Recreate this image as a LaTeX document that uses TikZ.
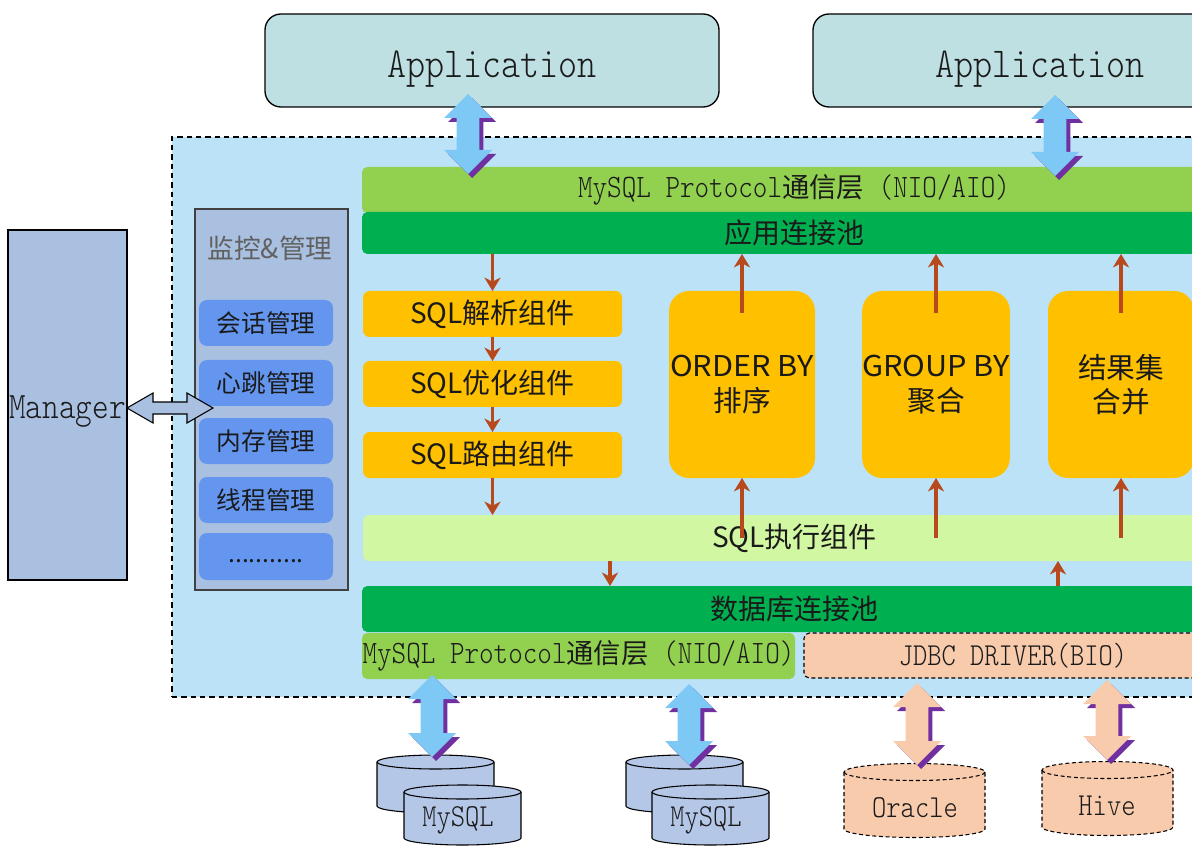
\documentclass[tikz,border=0pt]{standalone}
\usepackage{fontspec}
\newfontfamily\cjk{Noto Sans CJK SC}
\newfontfamily\cjkwide[FakeStretch=1.07]{Noto Sans CJK SC}
\newfontfamily\mono[FakeStretch=0.85]{Latin Modern Mono Light}
\usetikzlibrary{arrows.meta,calc}

\definecolor{appfill}{HTML}{BEE0E3}
\definecolor{outerfill}{HTML}{BBE2F7}
\definecolor{panelfill}{HTML}{A9C0E0}
\definecolor{itemfill}{HTML}{6496F0}
\definecolor{lgreen}{HTML}{92D050}
\definecolor{dgreen}{HTML}{00B050}
\definecolor{orangef}{HTML}{FFC000}
\definecolor{execfill}{HTML}{D2F7A2}
\definecolor{peach}{HTML}{F8CBAD}
\definecolor{arrbrown}{HTML}{B8491C}
\definecolor{cylblue}{HTML}{B4C7E7}
\definecolor{skyarrow}{HTML}{7DC8F5}
\definecolor{purp}{HTML}{7030A0}
\definecolor{txt}{HTML}{1A1A1A}

\newcommand{\protext}{{\mono\fontsize{24.5}{26}\selectfont MySQL Protocol}{\cjk\fontsize{20.5}{26}\selectfont 通信层}{\mono\fontsize{24.5}{26}\selectfont\ (NIO/AIO)}}

\newcommand{\darrpath}[3]{let \p1=(#1), \p2=(#2) in
 (\x1+#3,\y1-#3) -- (\x1+18pt+#3,\y1-18pt-#3) -- (\x1+8.6pt+#3,\y1-18pt-#3) --
 (\x1+8.6pt+#3,\y2+18pt-#3) -- (\x1+18pt+#3,\y2+18pt-#3) -- (\x1+#3,\y2-#3) --
 (\x1-18pt+#3,\y2+18pt-#3) -- (\x1-8.6pt+#3,\y2+18pt-#3) -- (\x1-8.6pt+#3,\y1-18pt-#3) --
 (\x1-18pt+#3,\y1-18pt-#3) -- cycle}
\newcommand{\threedarrow}[3]{\fill[purp] \darrpath{#1}{#2}{3pt}; \fill[#3] \darrpath{#1}{#2}{0pt};}

\newcommand{\dbcyl}[6]{%
 \pgfmathsetmacro\cylrx{#4*0.75}\pgfmathsetmacro\cylry{#5*0.75}%
 \path[#6] ({#1-#4},#2) -- ({#1-#4},#3) arc[start angle=180,end angle=360,x radius=\cylrx pt,y radius=\cylry pt] -- ({#1+#4},#2) arc[start angle=0,end angle=180,x radius=\cylrx pt,y radius=\cylry pt] -- cycle;
 \draw[#6, fill=none] ({#1-#4},#2) arc[start angle=180,end angle=360,x radius=\cylrx pt,y radius=\cylry pt];
}

\tikzset{
 pxbox/.style 2 args={minimum width=#1*0.75pt, minimum height=#2*0.75pt, inner sep=0pt, outer sep=0pt},
 appbox/.style={draw=black, line width=1pt, fill=appfill, rounded corners=12pt, text=txt, font=\mono\fontsize{32}{34}\selectfont, text height=24.8pt, text depth=0pt},
 outerbox/.style={draw=black, line width=0.8pt, dash pattern=on 4pt off 3pt, fill=outerfill},
 mgrbox/.style={draw=black, line width=1pt, fill=panelfill, text=txt, font=\mono\fontsize{28}{30}\selectfont, text height=19.5pt, text depth=0pt},
 panelbox/.style={draw=black!75, line width=0.9pt, fill=panelfill},
 itembox/.style={fill=itemfill, rounded corners=6pt, text=txt, font=\cjk\fontsize{18.5}{22}\selectfont},
 barbox/.style={rounded corners=4pt, text=txt, font=\cjk\fontsize{21}{24}\selectfont},
 sqlbox/.style={fill=orangef, rounded corners=5pt, text=txt, font=\cjk\fontsize{21}{24}\selectfont},
 bigbox/.style={fill=orangef, rounded corners=15pt, align=center, text=txt, font=\cjk\fontsize{21.5}{26}\selectfont},
 flow/.style={draw=arrbrown, line width=2.5pt, -{Stealth[length=10pt,width=12pt,inset=3pt]}},
 mgrarrow/.style={draw=black, line width=0.8pt, fill=panelfill},
 mycyl/.style={draw=black, line width=0.8pt, fill=cylblue},
 dcyl/.style={draw=black, line width=0.8pt, dash pattern=on 3pt off 2pt, fill=peach},
 dblabel/.style={inner sep=0pt, text=txt, font=\mono\fontsize{24}{26}\selectfont},
}

\begin{document}
\begin{tikzpicture}[x=0.75pt,y=-0.75pt]
\clip (0,0) rectangle (1192,848);
\fill[white] (0,0) rectangle (1192,848);

% outer dashed container
\node[outerbox, pxbox={1088}{560}] (outer) at (716,417) {};

% applications
\node[appbox, pxbox={454}{93}] (app1) at (492,60.5) {Application};
\node[appbox, pxbox={454}{93}] (app2) at (1040,60.5) {Application};

% manager
\node[mgrbox, pxbox={119}{350}] (manager) at (67.5,405) {Manager};

% monitor panel
\node[panelbox, pxbox={153}{381}] (panel) at (271.5,399.5) {};
\node[inner sep=0pt, text=black!62, font=\cjk\fontsize{20}{24}\selectfont] (ptitle) at (270,248) {监控\&管理};
\node[itembox, pxbox={134}{46}] (it1) at (266,323) {会话管理};
\node[itembox, pxbox={134}{46}] (it2) at (266,383) {心跳管理};
\node[itembox, pxbox={134}{46}] (it3) at (266,441) {内存管理};
\node[itembox, pxbox={134}{46}] (it4) at (266,500) {线程管理};
\node[itembox, pxbox={134}{47}] (it5) at (266,556.5) {\strut...........};

% top layers
\node[barbox, fill=lgreen, pxbox={864}{46}] (proto1) at (794,190) {\protext};
\node[barbox, fill=dgreen, pxbox={864}{42}] (pool) at (794,233) {应用连接池};

% SQL components
\node[sqlbox, pxbox={259}{46}] (parse) at (492.5,314) {SQL解析组件};
\node[sqlbox, pxbox={259}{46}] (opt) at (492.5,384) {SQL优化组件};
\node[sqlbox, pxbox={259}{46}] (route) at (492.5,455) {SQL路由组件};

% big boxes
\node[bigbox, pxbox={146}{187}] (order) at (742,384.5) {{\cjkwide ORDER BY}\\排序};
\node[bigbox, pxbox={146}{187}] (group) at (936,384.5) {{\cjkwide GROUP BY}\\聚合};
\node[bigbox, pxbox={146}{187}] (merge) at (1121,384.5) {结果集\\合并};

% execution and lower layers
\node[barbox, fill=execfill, pxbox={863}{46}] (exec) at (794.5,538) {SQL执行组件};
\node[barbox, fill=dgreen, pxbox={864}{46}] (dbpool) at (794,609) {数据库连接池};
\node[barbox, fill=lgreen, pxbox={433}{46}] (proto2) at (578.5,656) {\protext};
\node[barbox, fill=peach, draw=black, line width=0.8pt, dash pattern=on 3pt off 2pt, font=\mono\fontsize{24}{26}\selectfont, pxbox={418}{45}] (jdbc) at (1013,655.5) {JDBC DRIVER(BIO)};

% flow arrows
\draw[flow] (pool.south -| parse.north) -- (parse.north);
\draw[flow] (parse.south) -- (opt.north);
\draw[flow] (opt.south) -- (route.north);
\draw[flow] (route.south) -- (route.south |- exec.north);
\foreach \b in {order,group,merge}{
  \draw[flow] ($(\b.north)+(0,22)$) -- (\b.north |- pool.south);
  \draw[flow] (\b.south |- exec.center) -- (\b.south);
}
\coordinate (dcol) at (610,0);
\coordinate (ucol) at (1058,0);
\draw[flow] (exec.south -| dcol) -- (dbpool.north -| dcol);
\draw[flow] (dbpool.north -| ucol) -- (exec.south -| ucol);

% databases
\dbcyl{435.5}{762}{806}{58.5}{7}{mycyl}
\dbcyl{462.5}{792}{838}{58.5}{7}{mycyl}
\dbcyl{684.5}{762}{806}{58.5}{7}{mycyl}
\dbcyl{710.5}{792}{838}{58.5}{7}{mycyl}
\dbcyl{914.5}{772}{829}{70.5}{8.5}{dcyl}
\dbcyl{1107.5}{770}{827}{65.5}{8.5}{dcyl}
\node[dblabel] (db1) at (458,820) {MySQL};
\node[dblabel] (db2) at (706,820) {MySQL};
\node[dblabel] (db3) at (915,808) {Oracle};
\node[dblabel] (db4) at (1107,806) {Hive};

% 3D double arrows
\coordinate (a1t) at (468,94);  \coordinate (a1b) at (468,174);
\coordinate (a2t) at (1055,95); \coordinate (a2b) at (1055,176);
\coordinate (b1t) at (432,675); \coordinate (b1b) at (432,757);
\coordinate (b2t) at (689,684); \coordinate (b2b) at (689,765);
\coordinate (b3t) at (917,683); \coordinate (b3b) at (917,765);
\coordinate (b4t) at (1107,680); \coordinate (b4b) at (1107,760);
\threedarrow{a1t}{a1b}{skyarrow}
\threedarrow{a2t}{a2b}{skyarrow}
\threedarrow{b1t}{b1b}{skyarrow}
\threedarrow{b2t}{b2b}{skyarrow}
\threedarrow{b3t}{b3b}{peach}
\threedarrow{b4t}{b4b}{peach}

% manager double arrow
\coordinate (mtip) at (213,408);
\filldraw[mgrarrow] let \p1=(manager.east), \p2=(mtip) in
 (\x1,\y2) -- (\x1+19.5pt,\y2+11.25pt) -- (\x1+19.5pt,\y2+4.5pt) -- (\x2-19.5pt,\y2+4.5pt) --
 (\x2-19.5pt,\y2+11.25pt) -- (\x2,\y2) -- (\x2-19.5pt,\y2-11.25pt) -- (\x2-19.5pt,\y2-4.5pt) --
 (\x1+19.5pt,\y2-4.5pt) -- (\x1+19.5pt,\y2-11.25pt) -- cycle;
\end{tikzpicture}
\end{document}
